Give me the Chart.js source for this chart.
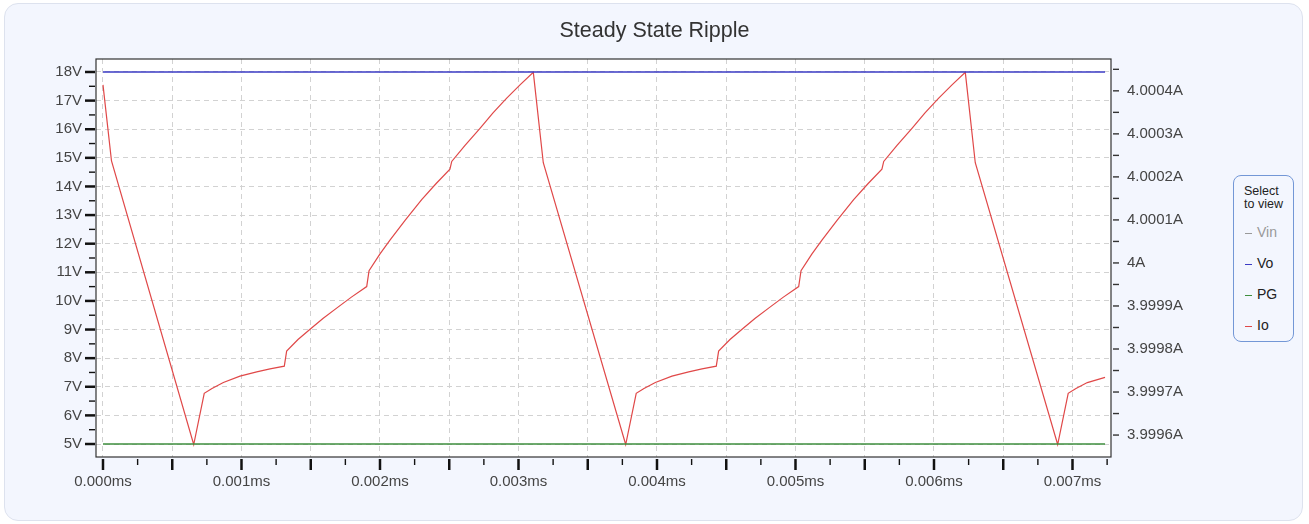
<!DOCTYPE html>
<html lang="en">

<head>
    <meta charset="UTF-8">
    <title>Steady State Ripple</title>
    <script src="https://cdn.jsdelivr.net/npm/chart.js"></script>
    <style>
        html, body {
            margin: 0;
            padding: 0;
            background: #ffffff;
            font-family: 'Liberation Sans', Arial, sans-serif;
        }

        .card {
            position: absolute;
            left: 4px;
            top: 3px;
            width: 1297px;
            height: 516px;
            background: #f3f6fe;
            border: 1px solid #dde2ee;
            border-radius: 14px;
        }

        #wrap {
            position: absolute;
            left: 0;
            top: 0;
            width: 1309px;
            height: 524px;
        }

        #legend {
            position: absolute;
            left: 1233px;
            top: 175px;
            width: 59px;
            height: 165px;
            border: 1px solid #7397d6;
            border-radius: 8px;
            background: #f3f6fe;
            color: #222;
        }

        #legend .hdr {
            position: absolute;
            left: 10px;
            top: 9px;
            font-size: 12.5px;
            line-height: 13px;
        }

        #legend .item {
            position: absolute;
            left: 11px;
            font-size: 14px;
            line-height: 16px;
            cursor: pointer;
        }

        #legend .item span {
            display: inline-block;
            width: 7px;
            height: 1.5px;
            margin-right: 5px;
            vertical-align: middle;
        }

        #legend .off {
            color: #999;
        }
    </style>
</head>

<body>
    <div class="card"></div>
    <div id="wrap">
        <canvas id="rippleChart" width="1309" height="524"></canvas>
    </div>
    <div id="legend">
        <div class="hdr">Select<br>to view</div>
        <div class="item off" style="top:48px"><span style="background:#999"></span>Vin</div>
        <div class="item" style="top:79px"><span style="background:#3b3bc4"></span>Vo</div>
        <div class="item" style="top:110px"><span style="background:#3e8e3e"></span>PG</div>
        <div class="item" style="top:141px"><span style="background:#e04848"></span>Io</div>
    </div>

    <script>
        // time in ms
        const ioTime = [0, 0.0000614, 0.000655,
            0.000731, 0.000787, 0.000869, 0.000989, 0.001110, 0.001206, 0.001309, 0.001326, 0.001408, 0.001495,
            0.001588, 0.001687, 0.001791, 0.001904, 0.001921, 0.002000, 0.002072, 0.002181, 0.002301, 0.002404,
            0.002505, 0.002518, 0.002614, 0.002722, 0.002816, 0.002915, 0.003011, 0.003107, 0.003179, 0.003774,
            0.003850, 0.003906, 0.003988, 0.004108, 0.004229, 0.004325, 0.004428, 0.004445, 0.004527, 0.004614,
            0.004707, 0.004806, 0.004910, 0.005023, 0.005040, 0.005119, 0.005191, 0.005300, 0.005420, 0.005523,
            0.005624, 0.005637, 0.005733, 0.005841, 0.005935, 0.006034, 0.006130, 0.006226, 0.006298, 0.006893,
            0.006969, 0.007025, 0.007107, 0.007235];
        // output current in A
        const ioAmps = [4.000414, 4.000237, 3.999578,
            3.999697, 3.999708, 3.999722, 3.999737, 3.999747, 3.999754, 3.999760, 3.999795, 3.999822, 3.999846,
            3.999871, 3.999895, 3.999920, 3.999945, 3.999982, 4.000021, 4.000053, 4.000099, 4.000147, 4.000184,
            4.000218, 4.000236, 4.000273, 4.000313, 4.000349, 4.000383, 4.000414, 4.000443, 4.000233, 3.999578,
            3.999697, 3.999708, 3.999722, 3.999737, 3.999747, 3.999754, 3.999760, 3.999795, 3.999822, 3.999846,
            3.999871, 3.999895, 3.999920, 3.999945, 3.999982, 4.000021, 4.000053, 4.000099, 4.000147, 4.000184,
            4.000218, 4.000236, 4.000273, 4.000313, 4.000349, 4.000383, 4.000414, 4.000443, 4.000233, 3.999578,
            3.999697, 3.999708, 3.999722, 3.999734];

        const voTime = [0, 0.007235];
        const voVolts = [18, 18];
        const pgTime = [0, 0.007235];
        const pgVolts = [5, 5];

        // axis ticks
        const xTickValues = [0, 0.00025, 0.0005, 0.00075, 0.001, 0.00125, 0.0015, 0.00175, 0.002, 0.00225,
            0.0025, 0.00275, 0.003, 0.00325, 0.0035, 0.00375, 0.004, 0.00425, 0.0045, 0.00475,
            0.005, 0.00525, 0.0055, 0.00575, 0.006, 0.00625, 0.0065, 0.00675, 0.007, 0.00725];
        const xTickLabels = ['0.000ms', '', '', '', '0.001ms', '', '', '', '0.002ms', '',
            '', '', '0.003ms', '', '', '', '0.004ms', '', '', '',
            '0.005ms', '', '', '', '0.006ms', '', '', '', '0.007ms', ''];
        const voltTickValues = [5, 5.5, 6, 6.5, 7, 7.5, 8, 8.5, 9, 9.5, 10, 10.5, 11, 11.5, 12, 12.5, 13, 13.5,
            14, 14.5, 15, 15.5, 16, 16.5, 17, 17.5, 18];
        const voltTickLabels = ['5V', '', '6V', '', '7V', '', '8V', '', '9V', '', '10V', '', '11V', '', '12V', '',
            '13V', '', '14V', '', '15V', '', '16V', '', '17V', '', '18V'];
        const ampTickValues = [3.9996, 3.99965, 3.9997, 3.99975, 3.9998, 3.99985, 3.9999, 3.99995, 4.0,
            4.00005, 4.0001, 4.00015, 4.0002, 4.00025, 4.0003, 4.00035, 4.0004, 4.00045];
        const ampTickLabels = ['3.9996A', '', '3.9997A', '', '3.9998A', '', '3.9999A', '', '4A',
            '', '4.0001A', '', '4.0002A', '', '4.0003A', '', '4.0004A', ''];

        const toPoints = (xs, ys) => xs.map((x, i) => ({ x: x, y: ys[i] }));

        // white plot area + frame + custom tick marks
        const plotFrame = {
            id: 'plotFrame',
            beforeDraw(chart) {
                const a = chart.chartArea, ctx = chart.ctx;
                ctx.save();
                ctx.fillStyle = '#ffffff';
                ctx.fillRect(a.left, a.top, a.width, a.height);
                ctx.restore();
            },
            afterDraw(chart) {
                const a = chart.chartArea, ctx = chart.ctx;
                ctx.save();
                ctx.strokeStyle = '#333';
                ctx.lineWidth = 1.2;
                ctx.strokeRect(a.left, a.top, a.width, a.height);

                ctx.strokeStyle = '#111';
                const sx = chart.scales.x;
                sx.ticks.forEach((t, i) => {
                    const p = sx.getPixelForValue(t.value);
                    const major = i % 2 === 0;
                    ctx.lineWidth = major ? 2.5 : 1.4;
                    ctx.beginPath();
                    ctx.moveTo(p, a.bottom + 2);
                    ctx.lineTo(p, a.bottom + (major ? 13 : 8));
                    ctx.stroke();
                });
                const sy = chart.scales.y;
                sy.ticks.forEach((t, i) => {
                    const p = sy.getPixelForValue(t.value);
                    const major = i % 2 === 0;
                    ctx.lineWidth = major ? 2.5 : 1.4;
                    ctx.beginPath();
                    ctx.moveTo(a.left - 1, p);
                    ctx.lineTo(a.left - (major ? 11 : 7), p);
                    ctx.stroke();
                });
                const sa = chart.scales.yA;
                ctx.strokeStyle = '#333';
                ctx.lineWidth = 1.4;
                sa.ticks.forEach((t) => {
                    const p = sa.getPixelForValue(t.value);
                    ctx.beginPath();
                    ctx.moveTo(a.right + 2, p);
                    ctx.lineTo(a.right + 8, p);
                    ctx.stroke();
                });
                ctx.restore();
            }
        };

        const tickFont = { family: "'Liberation Sans', Arial, sans-serif", size: 15 };

        new Chart(document.getElementById('rippleChart').getContext('2d'), {
            type: 'line',
            data: {
                datasets: [
                    { label: 'Vin', data: [], hidden: true, borderColor: '#999', yAxisID: 'y' },
                    { label: 'Vo', data: toPoints(voTime, voVolts), borderColor: '#3b3bc4', borderWidth: 1.3, yAxisID: 'y' },
                    { label: 'PG', data: toPoints(pgTime, pgVolts), borderColor: '#3e8e3e', borderWidth: 1.3, yAxisID: 'y' },
                    { label: 'Io', data: toPoints(ioTime, ioAmps), borderColor: '#e04848', borderWidth: 1.2, yAxisID: 'yA' }
                ]
            },
            options: {
                responsive: false,
                animation: false,
                elements: { point: { radius: 0 }, line: { tension: 0 } },
                layout: { padding: { left: 10, right: 10, top: 8, bottom: 27 } },
                plugins: {
                    legend: { display: false },
                    tooltip: { enabled: false },
                    title: {
                        display: true,
                        text: 'Steady State Ripple',
                        color: '#333',
                        font: { family: "'Liberation Sans', Arial, sans-serif", size: 21.5, weight: 'normal' },
                        padding: { top: 10, bottom: 15.2 }
                    }
                },
                scales: {
                    x: {
                        type: 'linear',
                        min: -0.0000505,
                        max: 0.007278,
                        afterBuildTicks: s => { s.ticks = xTickValues.map(v => ({ value: v })); },
                        afterFit: s => { s.height = 40; },
                        ticks: {
                            autoSkip: false,
                            maxRotation: 0,
                            padding: 3,
                            color: '#444',
                            font: tickFont,
                            callback: (v, i) => xTickLabels[i]
                        },
                        grid: {
                            color: c => (c.index % 2 === 0 ? '#d2d2d2' : 'rgba(0,0,0,0)'),
                            tickColor: 'rgba(0,0,0,0)',
                            tickLength: 13
                        },
                        border: { display: false, dash: [5, 4] }
                    },
                    y: {
                        position: 'left',
                        min: 4.546,
                        max: 18.454,
                        afterBuildTicks: s => { s.ticks = voltTickValues.map(v => ({ value: v })); },
                        afterFit: s => { s.width = 86; },
                        ticks: {
                            autoSkip: false,
                            padding: 3,
                            color: '#444',
                            font: tickFont,
                            callback: (v, i) => voltTickLabels[i]
                        },
                        grid: {
                            color: c => (c.index % 2 === 0 ? '#d2d2d2' : 'rgba(0,0,0,0)'),
                            tickColor: 'rgba(0,0,0,0)',
                            tickLength: 11
                        },
                        border: { display: false, dash: [5, 4] }
                    },
                    yA: {
                        position: 'right',
                        min: 3.999549,
                        max: 4.000474,
                        afterBuildTicks: s => { s.ticks = ampTickValues.map(v => ({ value: v })); },
                        afterFit: s => { s.width = 188; },
                        ticks: {
                            autoSkip: false,
                            padding: 8,
                            color: '#444',
                            font: tickFont,
                            callback: (v, i) => ampTickLabels[i]
                        },
                        grid: { drawOnChartArea: false, tickColor: 'rgba(0,0,0,0)', tickLength: 8 },
                        border: { display: false }
                    }
                }
            },
            plugins: [plotFrame]
        });
    </script>
</body>

</html>
